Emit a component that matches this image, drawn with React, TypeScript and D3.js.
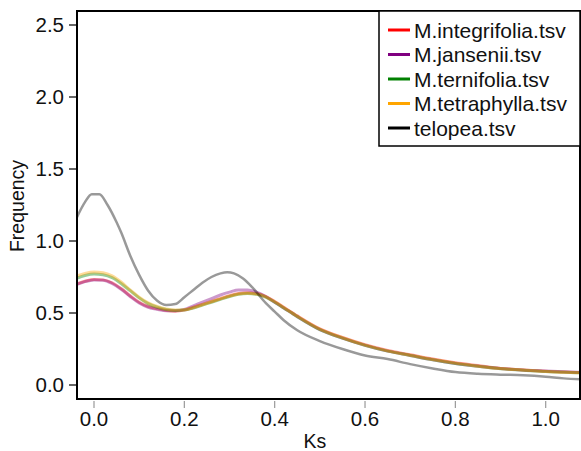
import React from "react";
import * as d3 from "d3";

const ksGrid = [-0.04, -0.02, 0, 0.02, 0.04, 0.06, 0.08, 0.1, 0.12, 0.14, 0.16, 0.18, 0.2, 0.22, 0.24, 0.26, 0.28, 0.3, 0.32, 0.34, 0.36, 0.38, 0.4, 0.42, 0.45, 0.5, 0.55, 0.6, 0.65, 0.7, 0.75, 0.8, 0.85, 0.9, 0.95, 1.0, 1.04, 1.08];

const integrifolia = [0.7, 0.72, 0.733, 0.73, 0.71, 0.67, 0.62, 0.575, 0.545, 0.53, 0.518, 0.513, 0.52, 0.54, 0.56, 0.58, 0.6, 0.62, 0.635, 0.64, 0.635, 0.615, 0.58, 0.54, 0.48, 0.39, 0.33, 0.28, 0.24, 0.21, 0.18, 0.155, 0.135, 0.115, 0.105, 0.095, 0.09, 0.086];
const jansenii = [0.695, 0.718, 0.73, 0.728, 0.705, 0.665, 0.615, 0.57, 0.54, 0.525, 0.515, 0.515, 0.525, 0.55, 0.575, 0.6, 0.625, 0.645, 0.66, 0.66, 0.645, 0.615, 0.575, 0.535, 0.475, 0.385, 0.325, 0.275, 0.235, 0.205, 0.175, 0.15, 0.13, 0.115, 0.105, 0.098, 0.092, 0.088];
const ternifolia = [0.74, 0.76, 0.77, 0.765, 0.745, 0.705, 0.655, 0.605, 0.565, 0.54, 0.525, 0.518, 0.52, 0.535, 0.555, 0.575, 0.595, 0.615, 0.63, 0.635, 0.63, 0.61, 0.575, 0.535, 0.475, 0.385, 0.325, 0.275, 0.235, 0.205, 0.175, 0.15, 0.13, 0.113, 0.103, 0.093, 0.088, 0.085];
const tetraphylla = [0.755, 0.775, 0.785, 0.78, 0.758, 0.715, 0.66, 0.61, 0.57, 0.545, 0.528, 0.52, 0.522, 0.537, 0.557, 0.578, 0.598, 0.617, 0.632, 0.637, 0.632, 0.612, 0.578, 0.538, 0.478, 0.388, 0.328, 0.277, 0.237, 0.206, 0.177, 0.152, 0.131, 0.114, 0.104, 0.094, 0.088, 0.085];

const telopeaKs = [-0.04, -0.02, -0.005, 0.012, 0.03, 0.05, 0.06, 0.08, 0.1, 0.12, 0.14, 0.16, 0.18, 0.2, 0.22, 0.24, 0.26, 0.28, 0.295, 0.31, 0.33, 0.35, 0.38, 0.4, 0.42, 0.45, 0.5, 0.55, 0.6, 0.65, 0.7, 0.75, 0.8, 0.85, 0.9, 0.95, 1.0, 1.04, 1.08];
const telopea = [1.15, 1.27, 1.325, 1.325, 1.25, 1.13, 1.06, 0.9, 0.765, 0.655, 0.585, 0.556, 0.562, 0.61, 0.66, 0.71, 0.75, 0.775, 0.783, 0.775, 0.74, 0.68, 0.57, 0.51, 0.45, 0.38, 0.305, 0.25, 0.205, 0.18, 0.145, 0.115, 0.09, 0.078, 0.072, 0.068, 0.058, 0.046, 0.04];

const seriesNames = ["M.integrifolia.tsv", "M.jansenii.tsv", "M.ternifolia.tsv", "M.tetraphylla.tsv", "telopea.tsv"];
const seriesColors = ["#ff0000", "#800080", "#008000", "#ffa500", "#000000"];

const xTicks = [0, 0.2, 0.4, 0.6, 0.8, 1.0];
const yTicks = [0, 0.5, 1.0, 1.5, 2.0, 2.5];

export default function App() {
  const W = 581, H = 451;
  const left = 77, right = 580, top = 11, bottom = 399;
  const x = d3.scaleLinear().domain([0, 1]).range([94, 545.7]);
  const y = d3.scaleLinear().domain([0, 1]).range([385, 241]);
  const line = d3.line<[number, number]>().x(d => x(d[0])).y(d => y(d[1])).curve(d3.curveMonotoneX);
  const series = [
    { ks: ksGrid, v: integrifolia },
    { ks: ksGrid, v: jansenii },
    { ks: ksGrid, v: ternifolia },
    { ks: ksGrid, v: tetraphylla },
    { ks: telopeaKs, v: telopea },
  ];
  const font = "'Liberation Sans', Arial, sans-serif";
  return (
    <svg width={W} height={H} style={{ position: "absolute", left: 0, top: 0 }} fontFamily={font}>
      <rect x={0} y={0} width={W} height={H} fill="#fff" />
      <defs>
        <clipPath id="plotclip">
          <rect x={left} y={top} width={right - left} height={bottom - top} />
        </clipPath>
      </defs>
      <g clipPath="url(#plotclip)">
        {series.map((s, i) => (
          <path key={i}
            d={line(s.ks.map((k, j) => [k, s.v[j]] as [number, number])) || ""}
            fill="none" stroke={seriesColors[i]} strokeOpacity={0.4} strokeWidth={i === 4 ? 2.5 : 3} />
        ))}
      </g>
      <rect x={left} y={top} width={right - left} height={bottom - top} fill="none" stroke="#000" strokeWidth={2} />
      {yTicks.map(t => (
        <g key={t}>
          <line x1={69} x2={76} y1={y(t)} y2={y(t)} stroke="#000" strokeWidth={1.2} />
          <text x={64} y={y(t)} dy="0.36em" textAnchor="end" fontSize={20.5} fill="#111">{t.toFixed(1)}</text>
        </g>
      ))}
      {xTicks.map(t => (
        <g key={t}>
          <line x1={x(t)} x2={x(t)} y1={401} y2={408} stroke="#999" strokeWidth={1.2} />
          <text x={x(t)} y={426} textAnchor="middle" fontSize={20.5} fill="#111">{t.toFixed(1)}</text>
        </g>
      ))}
      <text x={315} y={448} textAnchor="middle" fontSize={19.5} fill="#111">Ks</text>
      <text transform={`translate(24,206) rotate(-90)`} textAnchor="middle" fontSize={19.5} fill="#111">Frequency</text>
      <rect x={379} y={top} width={right - 379} height={146 - top} fill="#fff" stroke="#000" strokeWidth={1.5} />
      {seriesNames.map((n, i) => {
        const cy = 30 + i * 24.5;
        return (
          <g key={n}>
            <line x1={388} x2={410} y1={cy} y2={cy} stroke={seriesColors[i]} strokeWidth={3} />
            <text x={414} y={cy} dy="0.36em" fontSize={21} fill="#111">{n}</text>
          </g>
        );
      })}
    </svg>
  );
}
